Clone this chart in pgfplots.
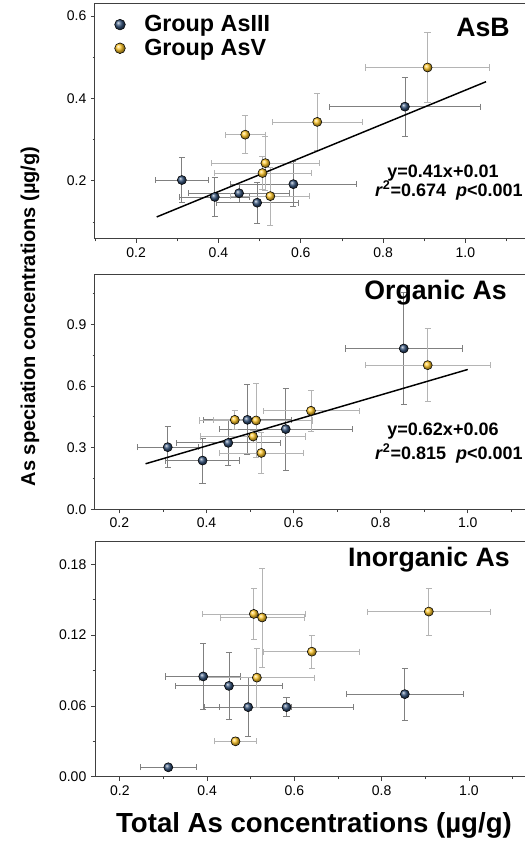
\documentclass[border=0pt]{standalone}
\usepackage{fontspec}
\setmainfont{Liberation Sans}
\usepackage{pgfplots}
\usepackage{pgfplotstable}
\pgfplotsset{compat=1.18}
\definecolor{navyb}{HTML}{34527A}
\definecolor{goldy}{HTML}{FFC72A}
\definecolor{axgray}{HTML}{404040}
\definecolor{ebblue}{HTML}{808080}
\definecolor{ebyel}{HTML}{B4B4B4}

% x  y  ex  ey
\pgfplotstableread{
x y ex ey
0.311 0.202 0.065 0.055
0.391 0.161 0.085 0.048
0.450 0.170 0.122 0.022
0.494 0.147 0.100 0.050
0.582 0.192 0.153 0.055
0.853 0.380 0.183 0.072
}\asbB
\pgfplotstableread{
x y ex ey
0.465 0.312 0.048 0.046
0.507 0.219 0.118 0.040
0.514 0.243 0.131 0.065
0.526 0.163 0.096 0.070
0.640 0.343 0.110 0.068
0.908 0.475 0.151 0.085
}\asbY
\pgfplotstableread{
x y ex ey
0.311 0.302 0.070 0.100
0.391 0.237 0.085 0.110
0.450 0.323 0.120 0.110
0.494 0.435 0.100 0.170
0.582 0.390 0.153 0.200
0.853 0.782 0.135 0.272
}\orgB
\pgfplotstableread{
x y ex ey
0.465 0.435 0.050 0.045
0.507 0.354 0.120 0.030
0.514 0.432 0.130 0.180
0.526 0.274 0.096 0.100
0.640 0.479 0.110 0.100
0.908 0.701 0.144 0.177
}\orgY
\pgfplotstableread{
x y ex ey
0.311 0.008 0.065 0.001
0.391 0.085 0.086 0.028
0.450 0.077 0.122 0.028
0.494 0.059 0.100 0.025
0.582 0.059 0.153 0.008
0.853 0.070 0.134 0.022
}\inoB
\pgfplotstableread{
x y ex ey
0.465 0.030 0.049 0.003
0.507 0.138 0.119 0.022
0.514 0.084 0.132 0.025
0.526 0.135 0.096 0.042
0.640 0.106 0.110 0.014
0.908 0.140 0.141 0.020
}\inoY

\pgfplotsset{
  panel/.style={
    scale only axis, width=324pt, anchor=south west,
    axis line style={axgray, line width=0.75pt},
    tick style={axgray, line width=0.6pt},
    tick align=outside, tick pos=left,
    major tick length=3pt, minor tick length=1.8pt,
    tick label style={font=\fontsize{10.5}{12}\selectfont, text=black},
    /pgf/number format/assume math mode=true,
    xtick={0.2,0.4,0.6,0.8,1.0},
    minor xtick={0.1,0.3,0.5,0.7,0.9,1.1},
    xticklabel style={/pgf/number format/fixed, /pgf/number format/fixed zerofill, /pgf/number format/precision=1},
    clip=false,
  },
  errb/.style={forget plot, draw=none, mark=none,
    error bars/.cd, x dir=both, x explicit, y dir=both, y explicit,
    error bar style={draw=#1, line width=0.6pt},
    error mark options={draw=#1, line width=0.6pt, mark size=2.3pt, rotate=90}},
  ballb/.style={only marks, mark=ball, mark size=3.4pt, mark options={ball color=navyb}},
  bally/.style={only marks, mark=ball, mark size=3.4pt, mark options={ball color=goldy}},
}

\begin{document}
\begin{tikzpicture}
% ---------- AsB ----------
\begin{axis}[panel, at={(71.25pt,453pt)}, height=176.25pt,
  xmin=0.1, xmax=1.1496, ymin=0.059, ymax=0.629,
  ytick={0.2,0.4,0.6}, minor ytick={0.1,0.3,0.5},
  yticklabel style={/pgf/number format/fixed, /pgf/number format/fixed zerofill, /pgf/number format/precision=1},
  legend style={draw=none, fill=none, at={(0.035,0.975)}, anchor=north west,
    font=\bfseries\fontsize{17.5}{18}\selectfont, row sep=0pt, column sep=12pt},
  legend image post style={mark size=4pt},
  legend cell align=left]
\addplot[errb=ebblue] table[x=x, y=y, x error=ex, y error=ey] {\asbB};
\addplot[errb=ebyel] table[x=x, y=y, x error=ex, y error=ey] {\asbY};
\addplot[black, line width=1.1pt, forget plot] coordinates {(0.25,0.1125) (1.05,0.4405)};
\addplot[ballb] table[x=x, y=y] {\asbB};
\addplot[bally] table[x=x, y=y] {\asbY};
\legend{Group AsIII, Group AsV}
\end{axis}
% ---------- Organic ----------
\begin{axis}[panel, at={(71.25pt,250.3pt)}, height=175.7pt,
  xmin=0.144, xmax=1.136, ymin=0, ymax=1.1396,
  ytick={0,0.3,0.6,0.9}, minor ytick={0.15,0.45,0.75,1.05},
  yticklabel style={/pgf/number format/fixed, /pgf/number format/fixed zerofill, /pgf/number format/precision=1}]
\addplot[errb=ebblue] table[x=x, y=y, x error=ex, y error=ey] {\orgB};
\addplot[errb=ebyel] table[x=x, y=y, x error=ex, y error=ey] {\orgY};
\addplot[black, line width=1.1pt, forget plot] coordinates {(0.26,0.2212) (1.0,0.68)};
\addplot[ballb] table[x=x, y=y] {\orgB};
\addplot[bally] table[x=x, y=y] {\orgY};
\end{axis}
% ---------- Inorganic ----------
\begin{axis}[panel, at={(71.25pt,49.7pt)}, height=176.25pt,
  xmin=0.143, xmax=1.133, ymin=0, ymax=0.1992,
  ytick={0,0.06,0.12,0.18}, minor ytick={0.03,0.09,0.15},
  yticklabel style={/pgf/number format/fixed, /pgf/number format/fixed zerofill, /pgf/number format/precision=2}]
\addplot[errb=ebblue] table[x=x, y=y, x error=ex, y error=ey] {\inoB};
\addplot[errb=ebyel] table[x=x, y=y, x error=ex, y error=ey] {\inoY};
\addplot[ballb] table[x=x, y=y] {\inoB};
\addplot[bally] table[x=x, y=y] {\inoY};
\end{axis}
% ---------- texts ----------
\begin{scope}[every node/.style={inner sep=0pt}]
\node[anchor=east, font=\bfseries\fontsize{20}{24}\selectfont] at (382.5pt,612pt) {AsB};
\node[anchor=east, font=\bfseries\fontsize{20}{24}\selectfont] at (380.25pt,412.5pt) {Organic As};
\node[anchor=east, font=\bfseries\fontsize{20}{24}\selectfont] at (382.5pt,212.25pt) {Inorganic As};
\node[font=\bfseries\fontsize{13.5}{16}\selectfont] at (332.25pt,502.8pt) {y=0.41x+0.01};
\node[anchor=east, font=\bfseries\fontsize{13.5}{16}\selectfont] at (392.25pt,489.5pt) {\textit{r}\textsuperscript{2}=0.674\ \ \textit{p}<0.001};
\node[font=\bfseries\fontsize{13.5}{16}\selectfont] at (332.25pt,308.8pt) {y=0.62x+0.06};
\node[anchor=east, font=\bfseries\fontsize{13.5}{16}\selectfont] at (392.25pt,292.1pt) {\textit{r}\textsuperscript{2}=0.815\ \ \textit{p}<0.001};
\node[rotate=90, font=\bfseries\fontsize{15}{18}\selectfont] at (22.5pt,394.9pt) {As speciation concentrations (µg/g)};
\node[font=\bfseries\fontsize{20.7}{24}\selectfont] at (235.5pt,13.5pt) {Total As concentrations (µg/g)};
\end{scope}
\pgfresetboundingbox
\path[use as bounding box] (0,0) rectangle (393.75pt,632.25pt);
\end{tikzpicture}
\end{document}
